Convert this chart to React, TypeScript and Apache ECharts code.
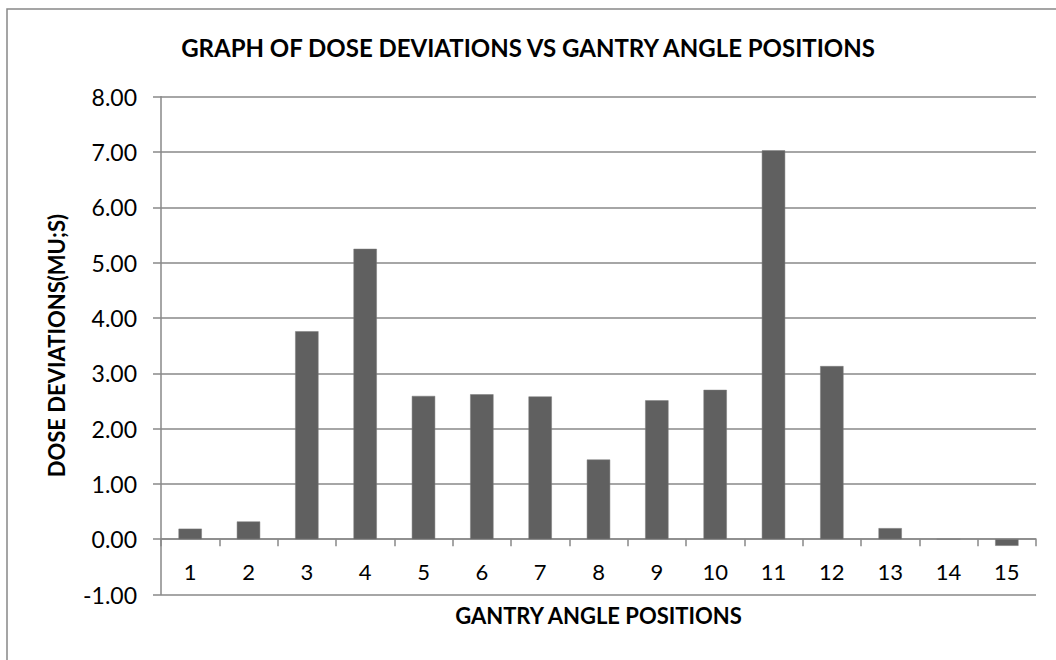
import React, { useEffect, useRef } from "react";
import * as echarts from "echarts";

const categories = ["1", "2", "3", "4", "5", "6", "7", "8", "9", "10", "11", "12", "13", "14", "15"];
const doseDeviations = [0.19, 0.32, 3.76, 5.25, 2.59, 2.62, 2.58, 1.44, 2.51, 2.7, 7.03, 3.13, 0.2, 0.0, -0.12];
const yMin = -1;
const yMax = 8;
const titleText = "GRAPH OF DOSE DEVIATIONS VS GANTRY ANGLE POSITIONS";
const xName = "GANTRY ANGLE POSITIONS";
const yName = "DOSE DEVIATIONS(MU;S)";

const FONT = "Lato, 'Open Sans', sans-serif";
const GRID_TOP = 96.7;
const GRID_BOTTOM = 65.5;
const H = 660;

export default function App() {
  const ref = useRef<HTMLDivElement>(null);
  useEffect(() => {
    document.body.style.margin = "0";
    const chart = echarts.init(ref.current!, null, { renderer: "svg" });
    const unit = (H - GRID_TOP - GRID_BOTTOM) / (yMax - yMin);
    const zeroOffset = -(0 - yMin) * unit;
    chart.setOption({
      animation: false,
      backgroundColor: "#ffffff",
      title: {
        text: titleText,
        left: "center",
        top: 30,
        textStyle: { fontFamily: FONT, fontWeight: "bold", fontSize: 24, color: "#000" },
      },
      graphic: [
        {
          type: "rect",
          shape: { x: 7, y: 9, width: 1300, height: 1000 },
          style: { fill: "none", stroke: "#888888", lineWidth: 1.5 },
          silent: true,
          z: -1,
        },
      ],
      grid: { left: 161, right: 20, top: GRID_TOP, bottom: GRID_BOTTOM, containLabel: false, outerBoundsMode: "none" },
      xAxis: {
        type: "category",
        data: categories,
        position: "bottom",
        offset: zeroOffset,
        name: xName,
        nameLocation: "middle",
        nameGap: 65,
        nameTextStyle: { fontFamily: FONT, fontWeight: "bold", fontSize: 22, color: "#000" },
        axisLine: { onZero: false, lineStyle: { color: "#888888", width: 1.5 } },
        axisTick: { show: true, alignWithLabel: false, length: 7, lineStyle: { color: "#888888", width: 1.5 } },
        axisLabel: { fontFamily: FONT, fontSize: 22, color: "#000", margin: 21 },
      },
      yAxis: {
        type: "value",
        min: yMin,
        max: yMax,
        interval: 1,
        name: yName,
        nameLocation: "middle",
        nameGap: 94,
        nameRotate: 90,
        nameTextStyle: { fontFamily: FONT, fontWeight: "bold", fontSize: 22, color: "#000" },
        axisLine: { show: true, lineStyle: { color: "#888888", width: 1.5 } },
        axisTick: { show: true, length: 8, lineStyle: { color: "#888888", width: 1.5 } },
        axisLabel: {
          fontFamily: FONT,
          fontSize: 23,
          color: "#000",
          margin: 24,
          formatter: (v: number) => v.toFixed(2),
        },
        splitLine: { show: true, lineStyle: { color: "#888888", width: 1.5 } },
      },
      series: [
        {
          type: "bar",
          data: doseDeviations,
          barCategoryGap: "60%",
          itemStyle: { color: "#606060", borderColor: "#7a7a7a", borderWidth: 0.5 },
        },
      ],
    });
    return () => chart.dispose();
  }, []);
  return <div ref={ref} style={{ width: 1056, height: 660 }} />;
}
